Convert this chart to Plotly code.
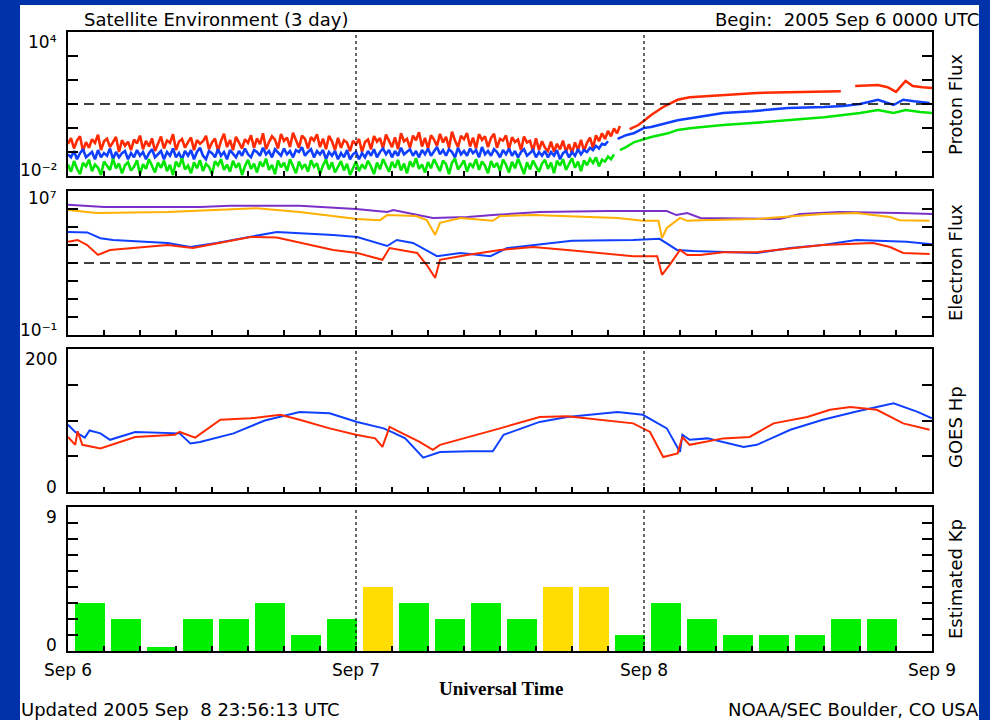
import plotly.graph_objects as go

# ---------------- data (hours since 2005 Sep 6 00:00 UTC) ----------------
day_boundaries = [24, 48]
x_tick_hours = list(range(0, 73, 3))
x_tick_text = {0: "Sep 6", 24: "Sep 7", 48: "Sep 8", 72: "Sep 9"}

# Proton flux: noisy background part sampled every 0.25 h, then smooth rise
noise_step_hours = 0.25
proton_red_noise = [
    0.22, 0.38, 0.14, 0.30, 0.45, 0.11, 0.26, 0.15, 0.34, 0.24, 0.52, 0.12, 0.28, 0.36, 0.16, 0.25, 0.42, 0.10, 0.31, 0.18,
    0.27, 0.12, 0.33, 0.23, 0.48, 0.13, 0.29, 0.17, 0.37, 0.11, 0.21, 0.44, 0.14, 0.30, 0.24, 0.55, 0.12, 0.27, 0.35, 0.15,
    0.26, 0.40, 0.12, 0.31, 0.22, 0.28, 0.47, 0.13, 0.25, 0.36, 0.11, 0.29, 0.58, 0.16, 0.32, 0.12, 0.43, 0.26, 0.14, 0.34,
    0.24, 0.50, 0.15, 0.37, 0.21, 0.60, 0.13, 0.26, 0.45, 0.33, 0.14, 0.56, 0.29, 0.40, 0.16, 0.63, 0.31, 0.15, 0.48, 0.35,
    0.14, 0.42, 0.30, 0.55, 0.16, 0.36, 0.13, 0.47, 0.28, 0.12, 0.39, 0.15, 0.31, 0.25, 0.11, 0.29, 0.21, 0.35, 0.10, 0.26,
    0.33, 0.13, 0.46, 0.27, 0.38, 0.14, 0.53, 0.30, 0.16, 0.41, 0.13, 0.60, 0.28, 0.35, 0.15, 0.48, 0.31, 0.66, 0.17, 0.39,
    0.14, 0.50, 0.33, 0.18, 0.57, 0.25, 0.43, 0.15, 0.70, 0.30, 0.16, 0.47, 0.34, 0.62, 0.17, 0.40, 0.14, 0.55, 0.32, 0.45,
    0.16, 0.38, 0.58, 0.15, 0.35, 0.30, 0.49, 0.13, 0.41, 0.26, 0.33, 0.12, 0.44, 0.25, 0.29, 0.11, 0.37, 0.12, 0.28, 0.15,
    0.11, 0.27, 0.10, 0.22, 0.13, 0.30, 0.10, 0.21, 0.09, 0.25, 0.12, 0.32, 0.11, 0.24, 0.40, 0.15, 0.50, 0.28, 0.60, 0.35,
    0.75, 0.45, 0.95, 0.60, 1.20]
proton_blue_noise = [
    0.08, 0.06, 0.11, 0.05, 0.09, 0.13, 0.06, 0.08, 0.10, 0.05, 0.12, 0.06, 0.09, 0.07, 0.14, 0.05, 0.10, 0.06, 0.09, 0.11,
    0.05, 0.09, 0.06, 0.12, 0.07, 0.10, 0.05, 0.09, 0.13, 0.06, 0.08, 0.11, 0.05, 0.10, 0.07, 0.14, 0.06, 0.09, 0.05, 0.11,
    0.07, 0.12, 0.05, 0.10, 0.15, 0.07, 0.05, 0.11, 0.09, 0.06, 0.13, 0.07, 0.10, 0.05, 0.12, 0.08, 0.06, 0.11, 0.07, 0.14,
    0.08, 0.06, 0.12, 0.10, 0.07, 0.15, 0.08, 0.11, 0.06, 0.13, 0.10, 0.07, 0.14, 0.08, 0.11, 0.06, 0.12, 0.10, 0.16, 0.07,
    0.10, 0.13, 0.06, 0.11, 0.08, 0.12, 0.05, 0.10, 0.07, 0.11, 0.05, 0.09, 0.06, 0.12, 0.05, 0.08, 0.10, 0.05, 0.09, 0.06,
    0.11, 0.07, 0.13, 0.06, 0.10, 0.14, 0.08, 0.12, 0.06, 0.11, 0.07, 0.15, 0.08, 0.10, 0.13, 0.07, 0.11, 0.06, 0.12, 0.08,
    0.14, 0.07, 0.11, 0.16, 0.08, 0.12, 0.07, 0.13, 0.10, 0.06, 0.15, 0.08, 0.11, 0.07, 0.14, 0.09, 0.12, 0.06, 0.16, 0.08,
    0.11, 0.07, 0.13, 0.10, 0.06, 0.12, 0.08, 0.14, 0.07, 0.11, 0.06, 0.10, 0.13, 0.07, 0.09, 0.12, 0.06, 0.10, 0.07, 0.11,
    0.06, 0.10, 0.07, 0.12, 0.05, 0.09, 0.11, 0.06, 0.10, 0.07, 0.13, 0.08, 0.12, 0.10, 0.15, 0.12, 0.18, 0.14, 0.22, 0.20,
    0.28]
proton_green_noise = [
    0.030, 0.015, 0.042, 0.020, 0.012, 0.035, 0.025, 0.048, 0.016, 0.030, 0.022, 0.011, 0.040, 0.026, 0.018, 0.052, 0.021, 0.033, 0.013, 0.028,
    0.038, 0.017, 0.024, 0.045, 0.012, 0.031, 0.020, 0.050, 0.026, 0.014, 0.036, 0.022, 0.044, 0.016, 0.029, 0.011, 0.040, 0.024, 0.055, 0.019,
    0.027, 0.013, 0.037, 0.021, 0.046, 0.016, 0.032, 0.024, 0.012, 0.041, 0.028, 0.050, 0.018, 0.030, 0.015, 0.043, 0.022, 0.035, 0.011, 0.026,
    0.047, 0.020, 0.033, 0.014, 0.039, 0.025, 0.053, 0.018, 0.029, 0.012, 0.044, 0.023, 0.036, 0.016, 0.050, 0.027, 0.013, 0.040, 0.021, 0.031,
    0.015, 0.045, 0.024, 0.034, 0.012, 0.028, 0.048, 0.019, 0.037, 0.014, 0.026, 0.042, 0.017, 0.032, 0.011, 0.023, 0.040, 0.016, 0.030, 0.020,
    0.043, 0.025, 0.012, 0.036, 0.019, 0.051, 0.028, 0.015, 0.039, 0.022, 0.047, 0.017, 0.033, 0.013, 0.041, 0.024, 0.055, 0.020, 0.030, 0.014,
    0.038, 0.021, 0.049, 0.026, 0.016, 0.044, 0.031, 0.012, 0.036, 0.053, 0.019, 0.028, 0.045, 0.015, 0.034, 0.024, 0.050, 0.018, 0.040, 0.027,
    0.013, 0.042, 0.023, 0.035, 0.016, 0.048, 0.029, 0.014, 0.039, 0.021, 0.052, 0.026, 0.012, 0.037, 0.019, 0.044, 0.025, 0.015, 0.033, 0.047,
    0.020, 0.036, 0.013, 0.043, 0.027, 0.050, 0.018, 0.031, 0.055, 0.022, 0.040, 0.016, 0.045, 0.028, 0.052, 0.035, 0.060, 0.025, 0.048, 0.040,
    0.065, 0.050, 0.080]

proton_red_t = [46.8, 47.5, 48.0, 48.6, 49.6, 50.8, 51.8, 53.0, 54.6, 57.4, 60.0, 62.0, 64.0, 64.4,
                None, 65.6, 66.5, 67.5, 68.3, 69.0, 69.8, 70.4, 71.2, 72.0]
proton_red_v = [0.9, 1.3, 2.0, 3.5, 7.5, 15, 19, 21, 24, 29, 31, 33, 35, 34,
                None, 56, 58, 62, 50, 32, 91, 56, 50, 46]
proton_blue_t = [45.8, 46.5, 47.2, 48.0, 48.6, 50.0, 50.8, 52.0, 54.6, 57.0, 60.0, 63.0, 64.6,
                 66.0, 67.5, 68.8, 69.6, 70.5, 71.8]
proton_blue_v = [0.35, 0.5, 0.62, 1.0, 1.1, 1.6, 2.1, 2.6, 4.2, 5.0, 6.8, 7.5, 8.3,
                 10, 15, 9.1, 15, 13, 11]
proton_green_t = [46.0, 46.5, 47.2, 48.0, 48.6, 50.0, 50.8, 52.0, 54.6, 57.0, 60.2, 63.0, 64.6,
                  66.0, 67.5, 68.8, 69.8, 71.0, 72.0]
proton_green_v = [0.12, 0.16, 0.26, 0.35, 0.42, 0.6, 0.83, 1.0, 1.33, 1.6, 2.1, 2.8, 3.5,
                  4.2, 5.6, 4.2, 5.6, 4.6, 4.2]
proton_threshold = 10

# Electron flux
elec_purple_t = [0, 3, 11, 13.5, 19.3, 24, 26.6, 27.1, 30.4, 33.3, 35.4, 39.3, 45, 49.9, 50.7,
                 51.6, 52.7, 59.3, 61, 64.3, 69.3, 72]
elec_purple_v = [1.7e6, 1.3e6, 1.3e6, 1.5e6, 1.5e6, 1.0e6, 6.8e5, 8.8e5, 3.2e5, 3.6e5, 4.6e5,
                 6.8e5, 7.7e5, 7.7e5, 4.6e5, 6e5, 3.2e5, 2.8e5, 5.3e5, 6.8e5, 6e5, 5.3e5]
elec_orange_t = [0, 2.4, 8.3, 15.7, 19.3, 24.1, 26, 26.6, 29, 29.9, 30.6, 31, 32.7, 35.4, 36, 38.8,
                 45.8, 47.9, 49.2, 49.5, 49.9, 51, 51.6, 52.7, 57.4, 62.9, 65.7, 68.5, 69.3, 71.8]
elec_orange_v = [8.8e5, 6e5, 6.8e5, 1.1e6, 6.8e5, 2.8e5, 2.4e5, 4.6e5, 4.1e5, 2.4e5, 3.6e4, 1.7e5,
                 3.2e5, 2.2e5, 4.1e5, 4.6e5, 3.2e5, 2.2e5, 2.2e5, 2.4e4, 8.8e4, 3.2e5, 2.2e5,
                 2.4e5, 2.8e5, 5.3e5, 6e5, 3.6e5, 2.4e5, 2.2e5]
elec_blue_t = [0, 1.6, 2.7, 3.75, 8.3, 10.2, 12.4, 17.4, 22.1, 24.1, 26.6, 27.4, 28.75, 30.75,
               32.7, 35.2, 36.6, 38.75, 42, 47.1, 49.3, 50.75, 52.1, 57.4, 60.2, 62.9, 65.7, 69.9, 72]
elec_blue_v = [5.3e4, 5e4, 2.4e4, 1.9e4, 1.3e4, 7.7e3, 1.3e4, 5.3e4, 3.6e4, 2.8e4, 8.8e3, 1.9e4,
               1.3e4, 2.4e3, 3.6e3, 2.4e3, 6.8e3, 1e4, 1.7e4, 1.9e4, 2.2e4, 5.3e3, 4.6e3, 3.6e3,
               6.8e3, 1e4, 1.9e4, 1.5e4, 1.1e4]
elec_red_t = [0, 0.8, 1.6, 2.5, 3.5, 8.3, 10.4, 15.2, 17.4, 22.1, 24.1, 26.2, 26.8, 29.1, 29.9,
              30.6, 31, 33.25, 36, 38.75, 41.6, 47.1, 49.1, 49.5, 50.2, 51, 51.6, 52.7, 54.6,
              57.4, 62.9, 67.1, 68.5, 69.6, 71.8]
elec_red_v = [1.5e4, 1.9e4, 1e4, 2.8e3, 5.3e3, 1e4, 6.8e3, 2.8e4, 2.6e4, 5.3e3, 3.6e3, 1.5e3,
              6.8e3, 3.6e3, 7.7e2, 1.5e2, 1.5e3, 2.8e3, 5.3e3, 7.7e3, 5.3e3, 2.4e3, 2.4e3, 2.2e2,
              9e2, 5.3e3, 2.8e3, 2.8e3, 4e3, 4e3, 1e4, 1.3e4, 7.7e3, 3.6e3, 3.2e3]
electron_threshold = 1000

# GOES Hp (nT)
hp_blue_t = [0, 0.6, 1.4, 1.8, 2.7, 3.5, 5.6, 9.3, 10.2, 11, 13.8, 16.4, 19.3, 21.8, 24.1, 26.3,
             27.1, 28.1, 29.6, 31, 33.5, 35.4, 36.3, 39.3, 41.6, 45.8, 47.9, 49.9, 51, 51.2, 51.8,
             53.3, 56.3, 57.4, 60.2, 62.9, 65.8, 68.8, 70.8, 72]
hp_blue_v = [94, 84, 76, 86, 82, 73, 84, 82, 68, 70, 82, 100, 112, 110, 98, 89, 83, 75, 48, 56,
             57, 57, 80, 98, 105, 112, 108, 89, 56, 80, 73, 75, 63, 66, 87, 101, 113, 124, 112, 103]
hp_red_t = [0, 0.6, 0.8, 1.2, 2.7, 5.6, 8.9, 9.3, 10.6, 12.7, 15.2, 17.7, 19.3, 21.8, 24, 25.6,
            26.2, 26.8, 27.5, 29.3, 30.4, 31, 36, 39.3, 41.6, 47.1, 48.5, 49.6, 50.8, 51.2, 51.8,
            54.6, 56.8, 58.8, 61.6, 63.5, 65.2, 67.4, 69.6, 71.8]
hp_red_v = [77, 66, 85, 66, 61, 77, 80, 84, 76, 101, 103, 108, 101, 89, 80, 75, 63, 91, 85, 70,
            59, 66, 89, 105, 106, 96, 84, 49, 54, 77, 66, 75, 77, 96, 105, 115, 119, 115, 96, 87]

# Estimated Kp (3-hour bins)
kp_start_hours = [0, 3, 6, 9, 12, 15, 18, 21, 24, 27, 30, 33, 36, 39, 42, 45,
                  48, 51, 54, 57, 60, 63, 66]
kp_values = [3, 2, 0.25, 2, 2, 3, 1, 2, 4, 3, 2, 3, 2, 4, 4, 1,
             3, 2, 1, 1, 1, 2, 2]

proton_tick_vals = [0.01, 0.1, 1, 10, 100, 1000, 10000]
electron_tick_vals = [0.1, 1, 10, 100, 1e3, 1e4, 1e5, 1e6, 1e7]
hp_tick_vals = [0, 50, 100, 150, 200]
kp_tick_vals = list(range(0, 10))
left_labels = [["10\u2074", "10\u207b\u00b2"], ["10\u2077", "10\u207b\u00b9"], ["200", "0"], ["9", "0"]]
right_labels = ["Proton Flux", "Electron Flux", "GOES Hp", "Estimated Kp"]

# ---------------- styling ----------------
FONT = "DejaVu Sans"
RED, BLUE, GREEN = "#ff2a00", "#1040ff", "#00e600"
PURPLE, ORANGE = "#7a30c8", "#ffb000"
KP_GREEN, KP_YELLOW = "#00ee00", "#ffdd00"
PAGE_BLUE = "#0033aa"

W, H = 990, 720
L, R, T, B = 68, 932, 32, 651
def fx(p): return (p - L) / (R - L)
def fy(p): return (B - p) / (B - T)

panels_px = [(32, 176), (191, 335), (349, 492), (507, 651)]
domains = [[fy(b), fy(t)] for t, b in panels_px]

fig = go.Figure()

def noise_hours(vals):
    return [i * noise_step_hours for i in range(len(vals))]

# proton
for noise, t, v, c in [(proton_red_noise, proton_red_t, proton_red_v, RED),
                       (proton_blue_noise, proton_blue_t, proton_blue_v, BLUE),
                       (proton_green_noise, proton_green_t, proton_green_v, GREEN)]:
    fig.add_trace(go.Scatter(x=noise_hours(noise), y=noise, mode="lines", line=dict(color=c, width=2.6),
                             xaxis="x", yaxis="y", showlegend=False))
    fig.add_trace(go.Scatter(x=t, y=v, mode="lines", line=dict(color=c, width=2.5),
                             xaxis="x", yaxis="y", showlegend=False))
fig.add_trace(go.Scatter(x=[0, 72], y=[proton_threshold] * 2, mode="lines",
                         line=dict(color="black", width=1.5, dash="10px,6px"),
                         xaxis="x", yaxis="y", showlegend=False))

# electron
for t, v, c in [(elec_purple_t, elec_purple_v, PURPLE), (elec_orange_t, elec_orange_v, ORANGE),
                (elec_blue_t, elec_blue_v, BLUE), (elec_red_t, elec_red_v, RED)]:
    fig.add_trace(go.Scatter(x=t, y=v, mode="lines", line=dict(color=c, width=2),
                             xaxis="x2", yaxis="y2", showlegend=False))
fig.add_trace(go.Scatter(x=[0, 72], y=[electron_threshold] * 2, mode="lines",
                         line=dict(color="black", width=1.5, dash="10px,6px"),
                         xaxis="x2", yaxis="y2", showlegend=False))

# Hp
for t, v, c in [(hp_blue_t, hp_blue_v, BLUE), (hp_red_t, hp_red_v, RED)]:
    fig.add_trace(go.Scatter(x=t, y=v, mode="lines", line=dict(color=c, width=2),
                             xaxis="x3", yaxis="y3", showlegend=False))

# Kp
fig.add_trace(go.Bar(x=kp_start_hours, y=kp_values, width=2.5, offset=0.6,
                     marker=dict(color=[KP_YELLOW if k >= 4 else KP_GREEN for k in kp_values], line=dict(width=0)),
                     xaxis="x4", yaxis="y4", showlegend=False))

def xaxis(anchor, labels=False):
    d = dict(range=[0, 72], anchor=anchor, showline=True, linecolor="black", linewidth=1.5, mirror=True,
             ticks="inside", ticklen=5, tickwidth=1.5, tickcolor="black", tickvals=x_tick_hours,
             showgrid=False, zeroline=False, showticklabels=labels)
    if labels:
        d.update(ticktext=[x_tick_text.get(h, "") for h in x_tick_hours],
                 tickfont=dict(family=FONT, size=17, color="black"), ticklabelstandoff=3)
    return d

def yaxis(domain, anchor, **kw):
    d = dict(domain=domain, anchor=anchor, showline=True, linecolor="black", linewidth=1.5, mirror="ticks",
             ticks="inside", ticklen=10, tickwidth=1.5, tickcolor="black", showticklabels=False,
             showgrid=False, zeroline=False)
    d.update(kw)
    return d

shapes = [dict(type="rect", xref="paper", yref="paper", x0=fx(20), x1=fx(979), y0=fy(725), y1=fy(5),
               fillcolor="white", line=dict(width=0), layer="below")]
for i, ax in enumerate(["", "2", "3", "4"]):
    for d in day_boundaries:
        shapes.append(dict(type="line", xref="x" + ax, yref="y" + ax + " domain", x0=d, x1=d, y0=0, y1=1,
                           line=dict(color="black", width=1.2, dash="dot")))

def ann(text, xp, yp, xanchor, size=18, family=FONT, angle=0, yanchor="middle"):
    return dict(text=text, x=fx(xp), y=fy(yp), xref="paper", yref="paper", showarrow=False,
                xanchor=xanchor, yanchor=yanchor, textangle=angle,
                font=dict(family=family, size=size, color="black"))

annotations = [
    ann("Satellite Environment (3 day)", 82, 20, "left"),
    ann("Begin:\u00a0 2005 Sep 6 0000 UTC", 981, 20, "right"),
    ann("Updated 2005 Sep\u00a0 8 23:56:13 UTC", 19, 709, "left"),
    ann("NOAA/SEC Boulder, CO USA", 981, 709, "right"),
    ann("<b>Universal Time</b>", 501, 688, "center", size=19, family="Liberation Serif"),
]
left_label_y = [(42, 170), (198, 330), (359, 487), (517, 645)]
for (top_lbl, bot_lbl), (yt, yb) in zip(left_labels, left_label_y):
    annotations.append(ann(top_lbl, 59, yt, "right", size=17))
    annotations.append(ann(bot_lbl, 59, yb, "right", size=17))
right_label_y = [104, 263, 427, 579]
for lbl, yc in zip(right_labels, right_label_y):
    annotations.append(ann(lbl, 955, yc, "center", size=18, angle=-90))

fig.update_layout(
    width=W, height=H, autosize=False,
    margin=dict(l=L, r=W - R, t=T, b=H - B, pad=0),
    paper_bgcolor=PAGE_BLUE, plot_bgcolor="white",
    xaxis=xaxis("y"), xaxis2=xaxis("y2"), xaxis3=xaxis("y3"), xaxis4=xaxis("y4", labels=True),
    yaxis=yaxis(domains[0], "x", type="log", range=[-2, 4], tickvals=proton_tick_vals),
    yaxis2=yaxis(domains[1], "x2", type="log", range=[-1, 7], tickvals=electron_tick_vals),
    yaxis3=yaxis(domains[2], "x3", range=[0, 200], tickvals=hp_tick_vals),
    yaxis4=yaxis(domains[3], "x4", range=[0, 9], tickvals=kp_tick_vals),
    shapes=shapes, annotations=annotations, bargap=0,
    font=dict(family=FONT, color="black"),
)

fig.write_html(
    "out.html",
    config={"displayModeBar": False},
    post_script="document.body.style.margin='0';document.body.style.overflow='hidden';"
                "document.body.style.background='" + PAGE_BLUE + "';",
)
